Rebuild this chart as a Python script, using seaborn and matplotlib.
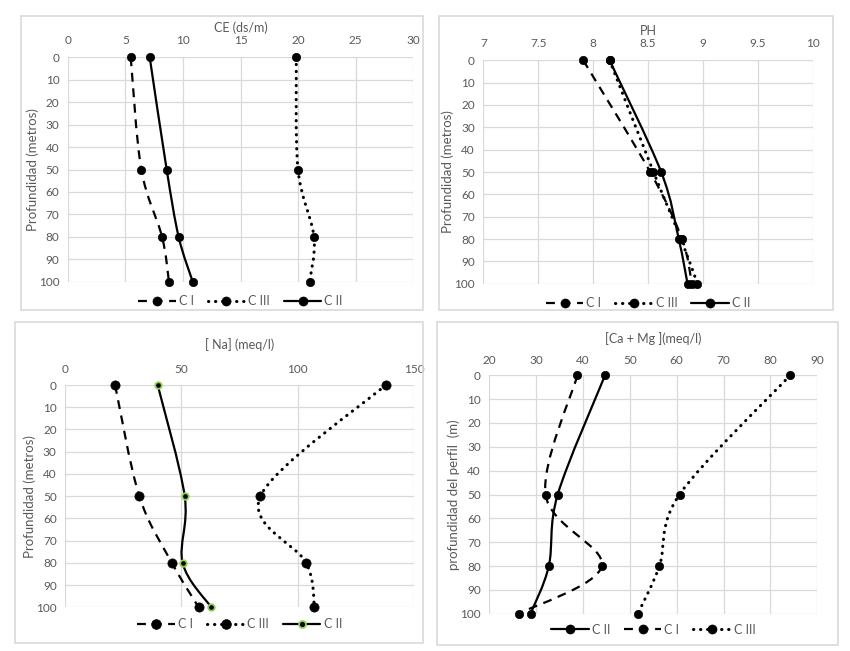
import numpy as np
import matplotlib
matplotlib.use("Agg")
import matplotlib.pyplot as plt
import seaborn as sns
from matplotlib.path import Path
from matplotlib.patches import PathPatch, Rectangle
from matplotlib.lines import Line2D

sns.set_theme(style="white")
plt.rcParams["font.family"] = ["Lato", "DejaVu Sans"]

GRAY = "#595959"
GRID = "#D9D9D9"
GREEN = "#92D050"

depth = [0, 50, 80, 100]

# CE (ds/m)
ce_c1 = [5.47, 6.39, 8.19, 8.79]
ce_c2 = [7.12, 8.59, 9.63, 10.85]
ce_c3 = [19.84, 19.99, 21.38, 21.0]

# PH
ph_c1 = [7.91, 8.52, 8.81, 8.90]
ph_c2 = [8.15, 8.62, 8.78, 8.86]
ph_c3 = [8.15, 8.55, 8.80, 8.95]

# [Na] (meq/l)
na_c1 = [21.5, 31.9, 45.9, 57.4]
na_c2 = [39.8, 51.4, 50.5, 62.8]
na_c3 = [137.7, 83.9, 103.6, 107.1]

# [Ca + Mg] (meq/l)
cm_c2 = [44.7, 34.6, 32.7, 28.8]
cm_c1 = [38.8, 32.0, 44.0, 26.3]
cm_c3 = [84.2, 60.6, 56.3, 51.7]

STYLES = {
    "dash": dict(ls=(0, (4, 3)), lw=1.6, cap="butt"),
    "dot": dict(ls=(0, (0.1, 2.2)), lw=2.2, cap="round"),
    "solid": dict(ls="-", lw=1.6, cap="butt"),
}


def smooth_path(x, y):
    # Excel-like smoothed line: cubic Bezier segments through the data points
    pts = np.column_stack([x, y]).astype(float)
    n = len(pts)
    verts, codes = [pts[0]], [Path.MOVETO]
    for i in range(n - 1):
        p0, p1 = pts[max(i - 1, 0)], pts[i]
        p2, p3 = pts[i + 1], pts[min(i + 2, n - 1)]
        verts += [p1 + (p2 - p0) / 6, p2 - (p3 - p1) / 6, p2]
        codes += [Path.CURVE4] * 3
    return Path(verts, codes)


def draw_series(ax, vals, style, ms=36, edge="black", ew=0.5):
    st = STYLES[style]
    patch = PathPatch(smooth_path(vals, depth), fill=False, ec="black", lw=st["lw"],
                      ls=st["ls"], capstyle=st["cap"], zorder=3)
    ax.add_patch(patch)
    sns.scatterplot(x=vals, y=depth, ax=ax, color="black", s=ms, edgecolor=edge,
                    linewidth=ew, zorder=4, clip_on=False, legend=False)


def handle(style, label, ms=6.5, edge="black", ew=0.5):
    st = STYLES[style]
    return Line2D([], [], color="black", lw=st["lw"], ls=st["ls"], dash_capstyle=st["cap"],
                  marker="o", ms=ms, mfc="black", mec=edge, mew=ew, label=label)


def setup(ax, xlim, xticks, xtick_labels, title, ylabel, tpad=4, xpad=8):
    ax.set_xlim(*xlim)
    ax.set_ylim(100, 0)
    ax.set_xticks(xticks)
    ax.set_xticklabels(xtick_labels)
    ax.set_yticks(range(0, 101, 10))
    ax.xaxis.tick_top()
    ax.xaxis.set_label_position("top")
    ax.set_xlabel(title, color=GRAY, fontsize=9, labelpad=tpad)
    ax.set_ylabel(ylabel, color=GRAY, fontsize=9.5, labelpad=0)
    ax.tick_params(axis="both", length=0, labelsize=8.5, colors=GRAY, pad=6)
    ax.tick_params(axis="x", pad=xpad)
    ax.grid(True, color=GRID, lw=0.9)
    ax.set_axisbelow(True)
    for sp in ax.spines.values():
        sp.set_visible(False)


def add_legend(ax, handles, y):
    ax.legend(handles=handles, loc="upper center", bbox_to_anchor=(0.5, y), ncol=3,
              frameon=False, fontsize=9, labelcolor=GRAY, handlelength=3.0,
              handletextpad=0.25, columnspacing=1.1, borderpad=0.2)


fig = plt.figure(figsize=(8.5, 6.51), dpi=100)
W, H = 850, 651


def px_axes(x0, y0, x1, y1):
    return fig.add_axes([x0 / W, 1 - y1 / H, (x1 - x0) / W, (y1 - y0) / H])


def box(x0, y0, x1, y1):
    fig.add_artist(Rectangle((x0 / W, 1 - y1 / H), (x1 - x0) / W, (y1 - y0) / H,
                             transform=fig.transFigure, fill=False, ec=GRID, lw=1.2))


box(21, 16, 423, 310)
box(439, 16, 833, 310)
box(15, 322, 423, 643)
box(437, 322, 838, 645)

# CE
ax1 = px_axes(67.7, 57.3, 413.3, 281.7)
setup(ax1, (0, 30), range(0, 31, 5), [str(v) for v in range(0, 31, 5)],
      "CE (ds/m)", "Profundidad (metros)", tpad=2.5)
draw_series(ax1, ce_c1, "dash")
draw_series(ax1, ce_c3, "dot")
draw_series(ax1, ce_c2, "solid")
add_legend(ax1, [handle("dash", "C I"), handle("dot", "C III"), handle("solid", "C II")], -0.02)

# PH
ax2 = px_axes(483.3, 60.3, 812.7, 283.7)
ph_ticks = [7, 7.5, 8, 8.5, 9, 9.5, 10]
setup(ax2, (7, 10), ph_ticks, ["7", "7.5", "8", "8.5", "9", "9.5", "10"],
      "PH", "Profundidad (metros)", tpad=2.5)
draw_series(ax2, ph_c1, "dash")
draw_series(ax2, ph_c3, "dot")
draw_series(ax2, ph_c2, "solid")
add_legend(ax2, [handle("dash", "C I"), handle("dot", "C III"), handle("solid", "C II")], -0.02)

# [Na]
ax3 = px_axes(65, 385, 414.3, 607.3)
setup(ax3, (0, 150), [0, 50, 100, 150], ["0", "50", "100", "150"],
      "[ Na] (meq/l)", "Profundidad (metros)", tpad=11, xpad=7)
draw_series(ax3, na_c1, "dash", ms=44)
draw_series(ax3, na_c3, "dot", ms=44)
draw_series(ax3, na_c2, "solid", ms=22, edge=GREEN, ew=1.3)
add_legend(ax3, [handle("dash", "C I", ms=7), handle("dot", "C III", ms=7),
                 handle("solid", "C II", ms=5, edge=GREEN, ew=1.3)], -0.01)

# [Ca + Mg]
ax4 = px_axes(489.3, 375.3, 817.3, 613.7)
setup(ax4, (20, 90), range(20, 91, 10), [str(v) for v in range(20, 91, 10)],
      "[Ca + Mg ](meq/l)", "profundidad del perfil  (m)", tpad=8, xpad=7)
draw_series(ax4, cm_c2, "solid")
draw_series(ax4, cm_c1, "dash")
draw_series(ax4, cm_c3, "dot")
add_legend(ax4, [handle("solid", "C II"), handle("dash", "C I"), handle("dot", "C III")], -0.005)

fig.savefig("out.png", dpi=100)
